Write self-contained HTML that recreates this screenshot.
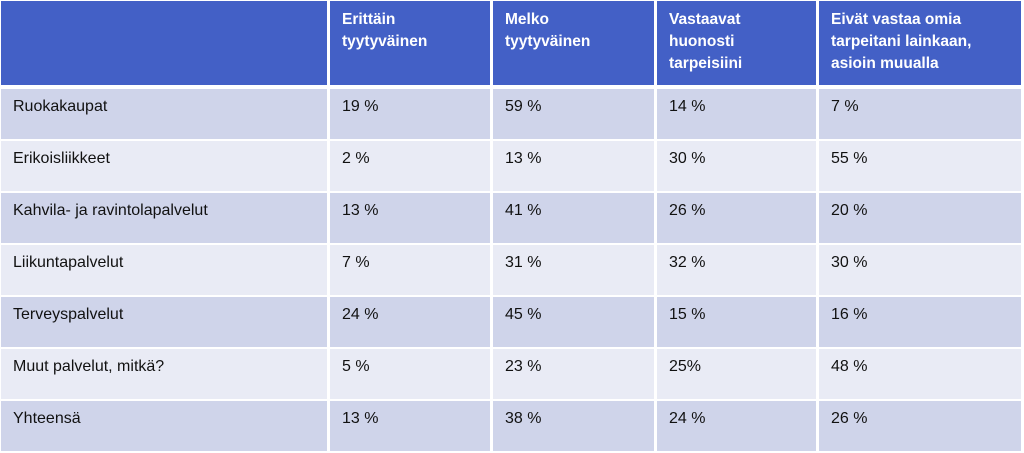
<!DOCTYPE html>
<html><head><meta charset="utf-8"><style>
body{margin:0;width:1024px;height:453px;background:#fff;overflow:hidden;font-family:"Liberation Sans",sans-serif;position:relative}
.c{position:absolute;box-sizing:border-box;padding-left:12px;color:#111;font-size:16px}
.h{background:#4360C6;color:#fff;font-weight:bold;line-height:22px;padding-top:8px;font-size:15.5px}
.o{background:#CFD4EA;line-height:36px}
.e{background:#E9EBF5;line-height:36px}
</style></head><body>
<div id="t"></div>
<script>
const cols=[[1,327],[330,490],[493,654],[657,816],[819,1021]];
const headers=["","Erittäin<br>tyytyväinen","Melko<br>tyytyväinen","Vastaavat<br>huonosti<br>tarpeisiini","Eivät vastaa omia<br>tarpeitani lainkaan,<br>asioin muualla"];
const rows=[
["Ruokakaupat","19 %","59 %","14 %","7 %"],
["Erikoisliikkeet","2 %","13 %","30 %","55 %"],
["Kahvila- ja ravintolapalvelut","13 %","41 %","26 %","20 %"],
["Liikuntapalvelut","7 %","31 %","32 %","30 %"],
["Terveyspalvelut","24 %","45 %","15 %","16 %"],
["Muut palvelut, mitkä?","5 %","23 %","25%","48 %"],
["Yhteensä","13 %","38 %","24 %","26 %"]];
const t=document.getElementById('t');
function cell(cls,x0,x1,y0,y1,html,name){
 const d=document.createElement('div');
 d.className='c '+cls;
 d.style.left=x0+'px';d.style.width=(x1-x0)+'px';d.style.top=y0+'px';d.style.height=(y1-y0)+'px';
 d.innerHTML=html;
 
 
 t.appendChild(d);
}
headers.forEach((h,i)=>cell('h',cols[i][0],cols[i][1],1,85,h,'header-cell-'+i));
rows.forEach((r,ri)=>{
 const y0=89+ri*52, y1=y0+50;
 r.forEach((v,ci)=>cell(ri%2?'e':'o',cols[ci][0],cols[ci][1],y0,y1,v,'row-'+ri+'-cell-'+ci));
});
</script>
</body></html>
